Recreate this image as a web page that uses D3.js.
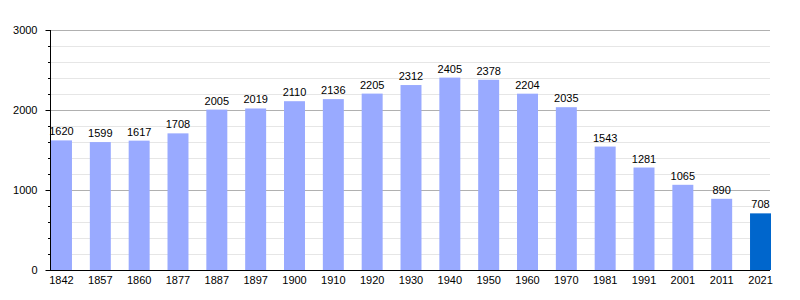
<!DOCTYPE html>
<meta charset="utf-8">
<script src="https://d3js.org/d3.v7.min.js"></script>
<style>
  body { margin: 0; background: #fff; }
  text { font-family: "Liberation Sans", Arial, sans-serif; font-size: 11px; fill: #000; }
</style>
<div id="chart"></div>
<script>
  var years = ["1842", "1857", "1860", "1877", "1887", "1897", "1900", "1910", "1920", "1930",
    "1940", "1950", "1960", "1970", "1981", "1991", "2001", "2011", "2021"];
  var population = [1620, 1599, 1617, 1708, 2005, 2019, 2110, 2136, 2205, 2312,
    2405, 2378, 2204, 2035, 1543, 1281, 1065, 890, 708];
  var yTicks = [0, 1000, 2000, 3000];

  var width = 800, height = 300;
  var plotLeft = 50, plotRight = 770, plotTop = 30, plotBottom = 270;

  var svg = d3.select("#chart").append("svg")
    .attr("width", width)
    .attr("height", height);

  var x = d3.scaleBand().domain(years).range([plotLeft + 1, plotRight + 1]).paddingInner(0.46).paddingOuter(0);
  var y = d3.scaleLinear().domain([0, 3000]).range([plotBottom, plotTop]);

  var minor = d3.range(200, 3000, 200).filter(function (d) { return d % 1000 !== 0; });

  // minor grid
  svg.append("g").selectAll("line")
    .data(minor)
    .enter().append("line")
    .attr("x1", plotLeft).attr("x2", plotRight)
    .attr("y1", function (d) { return y(d) + 0.5; })
    .attr("y2", function (d) { return y(d) + 0.5; })
    .attr("stroke", "#e6e6e6");

  // major grid
  svg.append("g").selectAll("line")
    .data([1000, 2000, 3000])
    .enter().append("line")
    .attr("x1", plotLeft).attr("x2", plotRight)
    .attr("y1", function (d) { return y(d) + 0.5; })
    .attr("y2", function (d) { return y(d) + 0.5; })
    .attr("stroke", "#b0b0b0");

  // bars
  svg.append("g").selectAll("rect")
    .data(population)
    .enter().append("rect")
    .attr("x", function (d, i) { return x(years[i]); })
    .attr("y", function (d) { return y(d); })
    .attr("width", x.bandwidth())
    .attr("height", function (d) { return plotBottom - y(d); })
    .attr("fill", function (d, i) { return i === years.length - 1 ? "#0066cc" : "#99aaff"; });

  // value labels
  svg.append("g").selectAll("text")
    .data(population)
    .enter().append("text")
    .attr("x", function (d, i) { return x(years[i]) + x.bandwidth() / 2; })
    .attr("y", function (d) { return y(d) - 5; })
    .attr("text-anchor", "middle")
    .text(function (d) { return d; });

  // y axis
  var yAxis = d3.axisLeft(y).tickValues(yTicks).tickSize(5).tickPadding(8).tickFormat(d3.format("d"));
  var gy = svg.append("g").attr("transform", "translate(" + (plotLeft + 0.5) + ",0)").call(yAxis);
  gy.select(".domain").remove();
  gy.selectAll("text").style("font-family", "Liberation Sans, Arial, sans-serif").style("font-size", "11px");
  svg.append("g").selectAll("line")
    .data(minor)
    .enter().append("line")
    .attr("x1", plotLeft - 2).attr("x2", plotLeft)
    .attr("y1", function (d) { return y(d) + 0.5; })
    .attr("y2", function (d) { return y(d) + 0.5; })
    .attr("stroke", "#000");
  svg.append("line")
    .attr("x1", plotLeft + 0.5).attr("x2", plotLeft + 0.5)
    .attr("y1", plotTop).attr("y2", plotBottom)
    .attr("stroke", "#000");

  // x axis
  var xAxis = d3.axisBottom(x).tickSize(0).tickPadding(6);
  var gx = svg.append("g").attr("transform", "translate(0," + plotBottom + ")").call(xAxis);
  gx.select(".domain").remove();
  gx.selectAll("text").style("font-family", "Liberation Sans, Arial, sans-serif").style("font-size", "11px");
  svg.append("line")
    .attr("x1", plotLeft).attr("x2", plotRight)
    .attr("y1", plotBottom + 0.5).attr("y2", plotBottom + 0.5)
    .attr("stroke", "#000");
</script>
